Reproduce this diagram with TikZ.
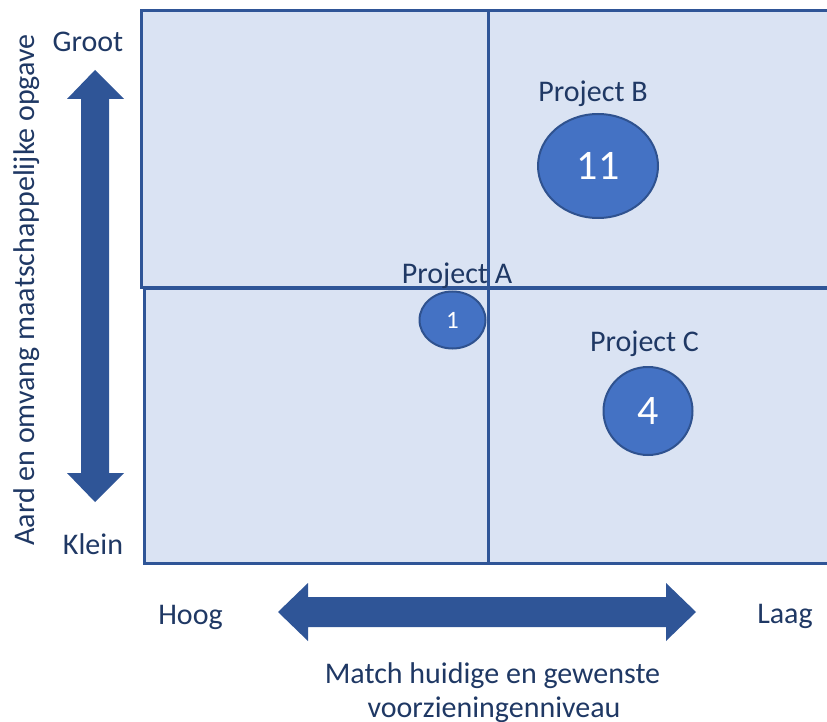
\documentclass[tikz,border=0pt]{standalone}
\usepackage{fontspec}
\setmainfont{Carlito}
\usepackage{tikz}
\usetikzlibrary{shapes.geometric}

\definecolor{quadfill}{HTML}{DAE3F3}
\definecolor{quadline}{HTML}{2F5597}
\definecolor{bubble}{HTML}{4472C4}
\definecolor{bubbleline}{HTML}{2F528F}
\definecolor{txt}{HTML}{1F3864}

\begin{document}
\begin{tikzpicture}[x=1pt,y=-1pt,
  quad/.style={draw=quadline,fill=quadfill,line width=3pt},
  lbl/.style={text=txt,font=\fontsize{30}{36}\selectfont,inner sep=0pt},
  proj/.style={ellipse,draw=bubbleline,fill=bubble,line width=2pt,text=white,inner sep=0pt},
  bar/.style={fill=quadline}]
\clip (0,0) rectangle (827,722);
% quadrants
\draw[quad] (141,11) rectangle (488,287);
\draw[quad] (488,11) rectangle (845,287);
\draw[quad] (144,288) rectangle (488,563);
\draw[quad] (488,288) rectangle (845,563);
% axis arrows
\fill[bar] (95,70) -- (124,99) -- (109,99) -- (109,473) -- (124,473) -- (95,502) -- (67,473) -- (81,473) -- (81,99) -- (67,99) -- cycle;
\fill[bar] (278,612) -- (308,583) -- (308,597) -- (666,597) -- (666,583) -- (696,612) -- (666,641) -- (666,627) -- (308,627) -- (308,641) -- cycle;
% axis labels
\node[lbl,anchor=base] (groot) at (88,52) {Groot};
\node[lbl,anchor=base] (klein) at (93,554) {Klein};
\node[lbl,anchor=base] (hoog) at (190.5,624) {Hoog};
\node[lbl,anchor=base] (laag) at (785,623) {Laag};
\node[lbl,anchor=base,rotate=90] (yaxis) at (34,290) {Aard en omvang maatschappelijke opgave};
\node[lbl,anchor=base] (xaxis1) at (492.5,683) {Match huidige en gewenste};
\node[lbl,anchor=base] (xaxis2) at (494,717) {voorzieningenniveau};
% projects
\node[proj,minimum width=120pt,minimum height=104pt,font=\fontsize{42}{50}\selectfont] (projB) at (598,166) {11};
\node[proj,minimum width=66pt,minimum height=57pt,font=\fontsize{25}{30}\selectfont] (projA) at (452.5,320) {1};
\node[proj,minimum width=89pt,minimum height=88pt,font=\fontsize{42}{50}\selectfont] (projC) at (648,411) {4};
\node[lbl,anchor=base] (labB) at (593,102) {Project B};
\node[lbl,anchor=base] (labA) at (457,283) {Project A};
\node[lbl,anchor=base] (labC) at (644.5,351) {Project C};
\end{tikzpicture}
\end{document}
